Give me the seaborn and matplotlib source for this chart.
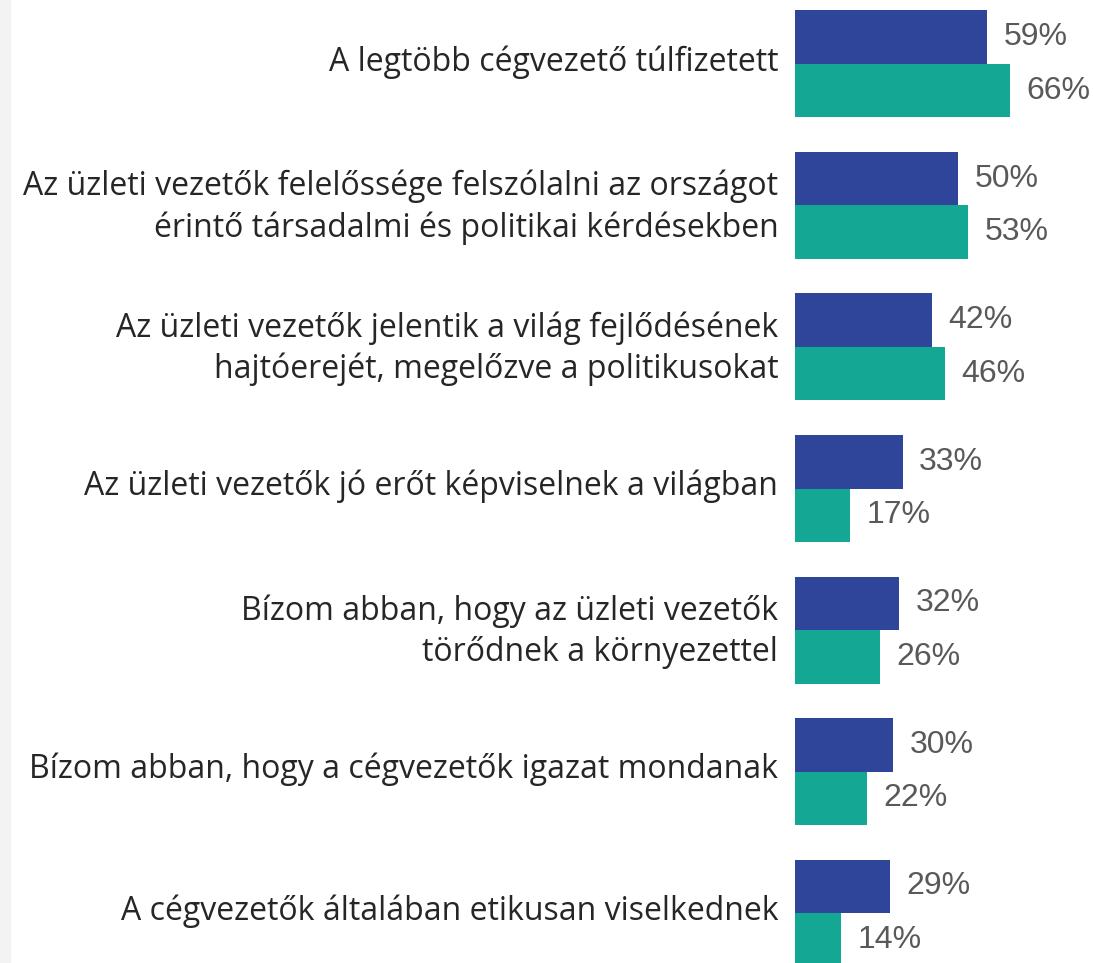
import pandas as pd
import seaborn as sns
import matplotlib.pyplot as plt
import matplotlib.transforms as mtransforms

# Data
statements = [
    "A legtöbb cégvezető túlfizetett",
    "Az üzleti vezetők felelőssége felszólalni az országot\nérintő társadalmi és politikai kérdésekben",
    "Az üzleti vezetők jelentik a világ fejlődésének\nhajtóerejét, megelőzve a politikusokat",
    "Az üzleti vezetők jó erőt képviselnek a világban",
    "Bízom abban, hogy az üzleti vezetők\ntörődnek a környezettel",
    "Bízom abban, hogy a cégvezetők igazat mondanak",
    "A cégvezetők általában etikusan viselkednek",
]
series = ["A", "B"]
values_a = [59, 50, 42, 33, 32, 30, 29]
values_b = [66, 53, 46, 17, 26, 22, 14]
palette = ["#2E4599", "#14A894"]

df = pd.DataFrame({
    "statement": statements * 2,
    "series": [series[0]] * len(statements) + [series[1]] * len(statements),
    "value": values_a + values_b,
})

sns.set_theme(style="white")
plt.rcParams["font.family"] = ["Open Sans", "DejaVu Sans"]

fig = plt.figure(figsize=(10.94, 9.63), dpi=100)
# light strip on the left edge
fig.patches.append(plt.Rectangle((0, 0), 10 / 1094, 1, transform=fig.transFigure,
                                 color="#f3f3f3", zorder=0))

ax = fig.add_axes([795 / 1094, 0, 299 / 1094, 1])
sns.barplot(data=df, y="statement", x="value", hue="series", order=statements,
            palette=palette, width=0.756, saturation=1, legend=False,
            linewidth=0, ax=ax)

ax.set_xlim(0, 91.7)
ax.set_ylim(6.353, -0.452)
ax.set_xlabel("")
ax.set_ylabel("")
ax.set_xticks([])
for s in ax.spines.values():
    s.set_visible(False)
ax.tick_params(axis="y", length=0, pad=12)
shift = mtransforms.ScaledTranslation(0, 6 / 100, fig.dpi_scale_trans)
for lbl in ax.get_yticklabels():
    lbl.set_fontsize(23)
    lbl.set_color("#262626")
    lbl.set_multialignment("right")
    lbl.set_linespacing(1.3)
    lbl.set_transform(lbl.get_transform() + shift)

down = mtransforms.ScaledTranslation(0, -3 / 100, fig.dpi_scale_trans)
for cont in ax.containers:
    texts = ax.bar_label(cont, fmt="%d%%", padding=12, fontsize=23, color="#595959",
                         family=["Liberation Sans", "DejaVu Sans"])
    for t in texts:
        t.set_transform(t.get_transform() + down)

fig.savefig("out.png", dpi=100)
